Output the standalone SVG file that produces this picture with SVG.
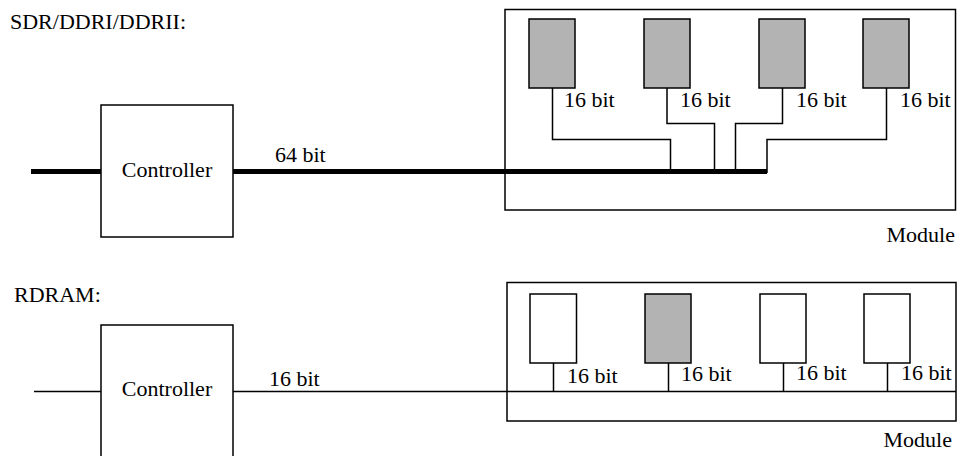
<svg xmlns="http://www.w3.org/2000/svg" width="957" height="456" viewBox="0 0 957 456">
<style>
.t{font-family:'Liberation Serif','Times New Roman',serif;font-size:22px;fill:#000}
.box{fill:#fff;stroke:#000;stroke-width:1.5}
.chip{fill:#b3b3b3;stroke:#000;stroke-width:1.5}
.chipw{fill:#fff;stroke:#000;stroke-width:1.5}
.wire{fill:none;stroke:#000;stroke-width:1.5}
.bus{fill:none;stroke:#000;stroke-width:5}
</style>
<rect width="957" height="456" fill="#fff"/>
<text class="t" x="10" y="29">SDR/DDRI/DDRII:</text>
<text class="t" x="14" y="302">RDRAM:</text>

<g id="module1">
<rect class="box" x="505" y="9.5" width="450.5" height="200.5"/>
<text class="t" x="955" y="242" text-anchor="end">Module</text>
</g>
<g id="chip1a"><rect class="chip" x="529" y="19" width="46" height="69"/><text class="t" x="564" y="107">16 bit</text></g>
<g id="chip1b"><rect class="chip" x="644" y="19" width="46" height="69"/><text class="t" x="680" y="107">16 bit</text></g>
<g id="chip1c"><rect class="chip" x="759" y="19" width="46" height="69"/><text class="t" x="796" y="107">16 bit</text></g>
<g id="chip1d"><rect class="chip" x="863" y="19" width="46" height="69"/><text class="t" x="900" y="107">16 bit</text></g>

<g id="controller1">
<rect class="box" x="101" y="105" width="132" height="132"/>
<text class="t" x="167" y="177" text-anchor="middle">Controller</text>
</g>

<g id="module2">
<rect class="box" x="507" y="282.5" width="449" height="138.5"/>
<text class="t" x="952" y="447" text-anchor="end">Module</text>
</g>
<g id="chip2a"><rect class="chipw" x="530" y="294" width="46.5" height="69"/><text class="t" x="567" y="383">16 bit</text></g>
<g id="chip2b"><rect class="chip" x="645" y="294" width="46" height="69"/><text class="t" x="681" y="381">16 bit</text></g>
<g id="chip2c"><rect class="chipw" x="760" y="294" width="46" height="69"/><text class="t" x="796" y="380">16 bit</text></g>
<g id="chip2d"><rect class="chipw" x="864" y="294" width="46" height="69"/><text class="t" x="901" y="380">16 bit</text></g>

<g id="controller2">
<rect class="box" x="101" y="325" width="132" height="140"/>
<text class="t" x="167" y="396" text-anchor="middle">Controller</text>
</g>

<g id="connectors">
<line class="bus" x1="31" y1="171.5" x2="101" y2="171.5"/>
<line class="bus" x1="233" y1="171.5" x2="767" y2="171.5"/>
<text class="t" x="275" y="162">64 bit</text>
<polyline class="wire" points="552.5,88 552.5,139.5 670.5,139.5 670.5,171"/>
<polyline class="wire" points="667,88 667,123.5 714.5,123.5 714.5,171"/>
<polyline class="wire" points="782.5,88 782.5,123.5 735.5,123.5 735.5,171"/>
<polyline class="wire" points="886.5,88 886.5,139.5 767,139.5 767,173"/>

<line class="wire" x1="34" y1="391.5" x2="101" y2="391.5"/>
<line class="wire" x1="233" y1="391.5" x2="956" y2="391.5"/>
<text class="t" x="269" y="386">16 bit</text>
<line class="wire" x1="553.5" y1="363" x2="553.5" y2="391.5"/>
<line class="wire" x1="668.5" y1="363" x2="668.5" y2="391.5"/>
<line class="wire" x1="783.5" y1="363" x2="783.5" y2="391.5"/>
<line class="wire" x1="887.5" y1="363" x2="887.5" y2="391.5"/>
</g>
</svg>
